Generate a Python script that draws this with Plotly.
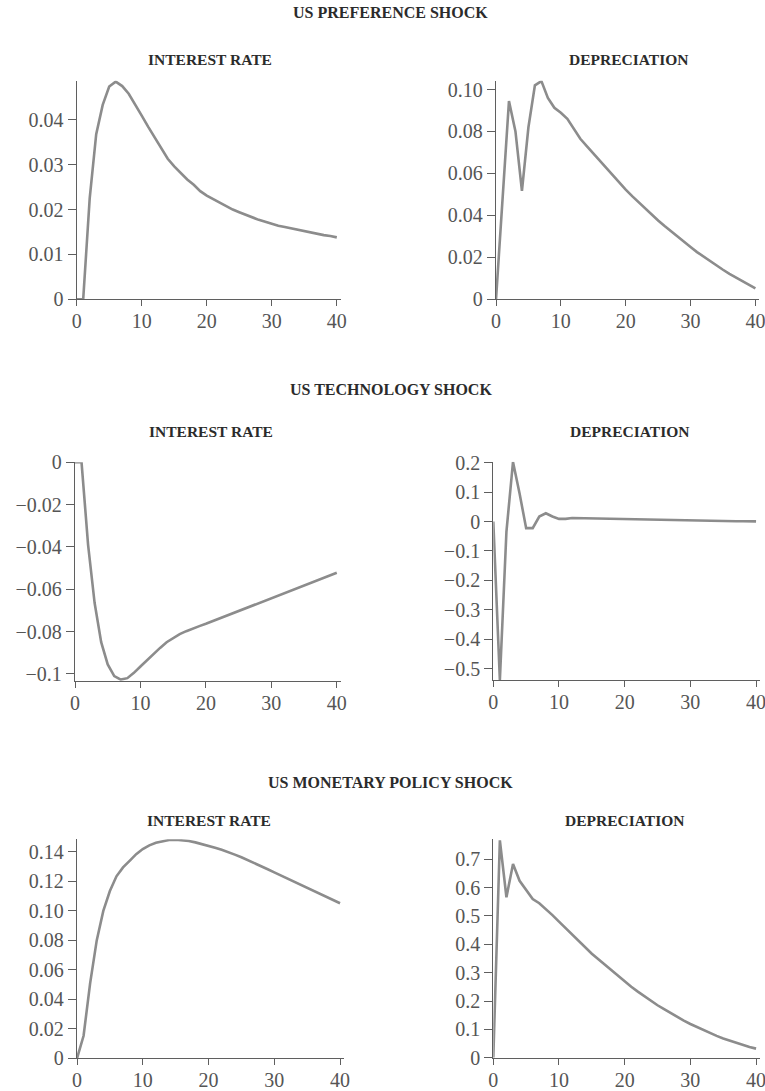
import plotly.graph_objects as go

W, H = 765, 1091

periods = list(range(41))

pref_rate = [0, 0, 0.0225, 0.0368, 0.0433, 0.0474, 0.0485, 0.0475, 0.0458, 0.0435,
             0.0409, 0.0384, 0.0360, 0.0336, 0.0313, 0.0296, 0.0281, 0.0267, 0.0255, 0.0241,
             0.0231, 0.0223, 0.0215, 0.0208, 0.0200, 0.0194, 0.0188, 0.0183, 0.0177, 0.0173,
             0.0168, 0.0164, 0.0161, 0.0158, 0.0154, 0.0151, 0.0148, 0.0146, 0.0143, 0.0141,
             0.0138]
pref_dep = [0, 0.050, 0.0945, 0.080, 0.0517, 0.082, 0.102, 0.104, 0.096, 0.0913,
            0.0889, 0.0860, 0.0810, 0.0765, 0.0730, 0.0695, 0.0660, 0.0626, 0.0592, 0.0557,
            0.0523, 0.0492, 0.0462, 0.0433, 0.0404, 0.0376, 0.0349, 0.0323, 0.0297, 0.0273,
            0.0249, 0.0225, 0.0203, 0.0181, 0.0161, 0.0141, 0.0121, 0.0103, 0.0085, 0.0068,
            0.0052]
tech_rate = [0, 0, -0.039, -0.0665, -0.085, -0.0955, -0.101, -0.1027, -0.102, -0.0995,
             -0.0965, -0.0935, -0.0905, -0.0877, -0.0850, -0.0830, -0.0812, -0.0798, -0.0785, -0.0774,
             -0.0763, -0.0751, -0.0739, -0.0727, -0.0715, -0.0703, -0.0691, -0.0679, -0.0667, -0.0655,
             -0.0643, -0.0631, -0.0619, -0.0607, -0.0595, -0.0582, -0.0570, -0.0558, -0.0546, -0.0534,
             -0.0522]
tech_dep = [0, -0.538, -0.034, 0.202, 0.095, -0.0225, -0.0225, 0.017, 0.028, 0.017,
            0.009, 0.009, 0.012, 0.0115, 0.011, 0.0103, 0.0096, 0.009, 0.0084, 0.0078,
            0.0072, 0.0067, 0.0062, 0.0058, 0.0054, 0.005, 0.0046, 0.0042, 0.0038, 0.0034,
            0.003, 0.0027, 0.0024, 0.0021, 0.0018, 0.0015, 0.0012, 0.001, 0.0008, 0.0006,
            0.0004]
mon_rate = [0, 0.0153, 0.051, 0.080, 0.100, 0.1135, 0.1235, 0.1295, 0.1340, 0.1385,
            0.1420, 0.1445, 0.1462, 0.1474, 0.1481, 0.1483, 0.1480, 0.1474, 0.1465, 0.1454,
            0.1442, 0.1429, 0.1415, 0.1400, 0.1382, 0.1364, 0.1345, 0.1325, 0.1304, 0.1283,
            0.1262, 0.1241, 0.1220, 0.1199, 0.1178, 0.1157, 0.1136, 0.1115, 0.1094, 0.1073,
            0.1052]
mon_dep = [0, 0.767, 0.566, 0.683, 0.624, 0.594, 0.560, 0.545, 0.525, 0.503,
           0.480, 0.457, 0.435, 0.413, 0.390, 0.367, 0.347, 0.327, 0.307, 0.287,
           0.268, 0.250, 0.233, 0.216, 0.200, 0.185, 0.171, 0.157, 0.144, 0.131,
           0.119, 0.108, 0.097, 0.087, 0.077, 0.068, 0.060, 0.052, 0.045, 0.038,
           0.032]

shock_titles = ["US PREFERENCE SHOCK", "US TECHNOLOGY SHOCK", "US MONETARY POLICY SHOCK"]
panel_titles = ["INTEREST RATE", "DEPRECIATION"]

x_ticks = [0, 10, 20, 30, 40]
x_ticktext = ["0", "10", "20", "30", "40"]

y_ticks = [
    [0, 0.01, 0.02, 0.03, 0.04],
    [0, 0.02, 0.04, 0.06, 0.08, 0.10],
    [0, -0.02, -0.04, -0.06, -0.08, -0.1],
    [0.2, 0.1, 0, -0.1, -0.2, -0.3, -0.4, -0.5],
    [0, 0.02, 0.04, 0.06, 0.08, 0.10, 0.12, 0.14],
    [0, 0.1, 0.2, 0.3, 0.4, 0.5, 0.6, 0.7],
]
y_ticktext = [
    ["0", "0.01", "0.02", "0.03", "0.04"],
    ["0", "0.02", "0.04", "0.06", "0.08", "0.10"],
    ["0", "\u22120.02", "\u22120.04", "\u22120.06", "\u22120.08", "\u22120.1"],
    ["0.2", "0.1", "0", "\u22120.1", "\u22120.2", "\u22120.3", "\u22120.4", "\u22120.5"],
    ["0", "0.02", "0.04", "0.06", "0.08", "0.10", "0.12", "0.14"],
    ["0", "0.1", "0.2", "0.3", "0.4", "0.5", "0.6", "0.7"],
]
y_ranges = [
    [0, 0.0487],
    [0, 0.1042],
    [-0.1032, 0],
    [-0.538, 0.203],
    [0, 0.1486],
    [0, 0.7705],
]
series = [pref_rate, pref_dep, tech_rate, tech_dep, mon_rate, mon_dep]

# panel boxes in pixels: (left, right, top, bottom)
boxes = [
    (76.7, 340.7, 80.7, 299.3),
    (496.0, 759.3, 80.7, 299.3),
    (75.0, 340.7, 462.3, 680.7),
    (493.3, 760.0, 461.7, 680.0),
    (77.0, 344.0, 839.3, 1058.3),
    (493.3, 760.0, 839.3, 1057.7),
]

LINE_COLOR = "#8c8c8c"
AXIS_COLOR = "#5f5f5f"
TICK_FONT = dict(family="Liberation Serif", size=20, color="#555555")
SHOCK_FONT = dict(family="Liberation Serif", size=16, color="#2b2b2b")
TITLE_FONT = dict(family="Liberation Serif", size=15.5, color="#2b2b2b")

fig = go.Figure()
layout = dict(
    width=W, height=H, autosize=False,
    margin=dict(l=0, r=0, t=0, b=0, pad=0, autoexpand=False),
    paper_bgcolor="white", plot_bgcolor="white",
    showlegend=False,
)

for i, (ys, box) in enumerate(zip(series, boxes)):
    n = "" if i == 0 else str(i + 1)
    fig.add_trace(go.Scatter(
        x=periods, y=ys, mode="lines",
        line=dict(color=LINE_COLOR, width=2.6),
        xaxis="x" + n, yaxis="y" + n, hoverinfo="skip",
    ))
    l, r, t, b = box
    common = dict(
        showgrid=False, zeroline=False, showline=True, automargin=False,
        linecolor=AXIS_COLOR, linewidth=1.3,
        ticks="outside", tickwidth=1.3, tickcolor=AXIS_COLOR,
        tickfont=TICK_FONT, ticklabeloverflow="allow",
    )
    layout["xaxis" + n] = dict(
        domain=[l / W, r / W], anchor="y" + n, range=[0, 40.6], ticklen=6,
        ticklabelstandoff=-2,
        tickmode="array", tickvals=x_ticks, ticktext=x_ticktext, **common,
    )
    layout["yaxis" + n] = dict(
        domain=[1 - b / H, 1 - t / H], anchor="x" + n, range=y_ranges[i], ticklen=8,
        tickmode="array", tickvals=y_ticks[i], ticktext=y_ticktext[i], **common,
    )

annotations = []
shock_y = [12, 389, 782]
sub_y = [59.5, 431, 820]
sub_x = [[210, 628], [211, 629], [209, 624]]
for k in range(3):
    annotations.append(dict(
        text="<b>" + shock_titles[k] + "</b>", x=391 / W, y=1 - shock_y[k] / H,
        xref="paper", yref="paper", showarrow=False, xanchor="center", yanchor="middle",
        font=SHOCK_FONT,
    ))
    for j in range(2):
        annotations.append(dict(
            text="<b>" + panel_titles[j] + "</b>", x=sub_x[k][j] / W, y=1 - sub_y[k] / H,
            xref="paper", yref="paper", showarrow=False, xanchor="center", yanchor="middle",
            font=TITLE_FONT,
        ))
layout["annotations"] = annotations

fig.update_layout(**layout)
fig.write_html(
    "out.html",
    config={"displayModeBar": False, "responsive": False},
    post_script="document.body.style.margin='0';document.body.style.overflow='hidden';",
)
